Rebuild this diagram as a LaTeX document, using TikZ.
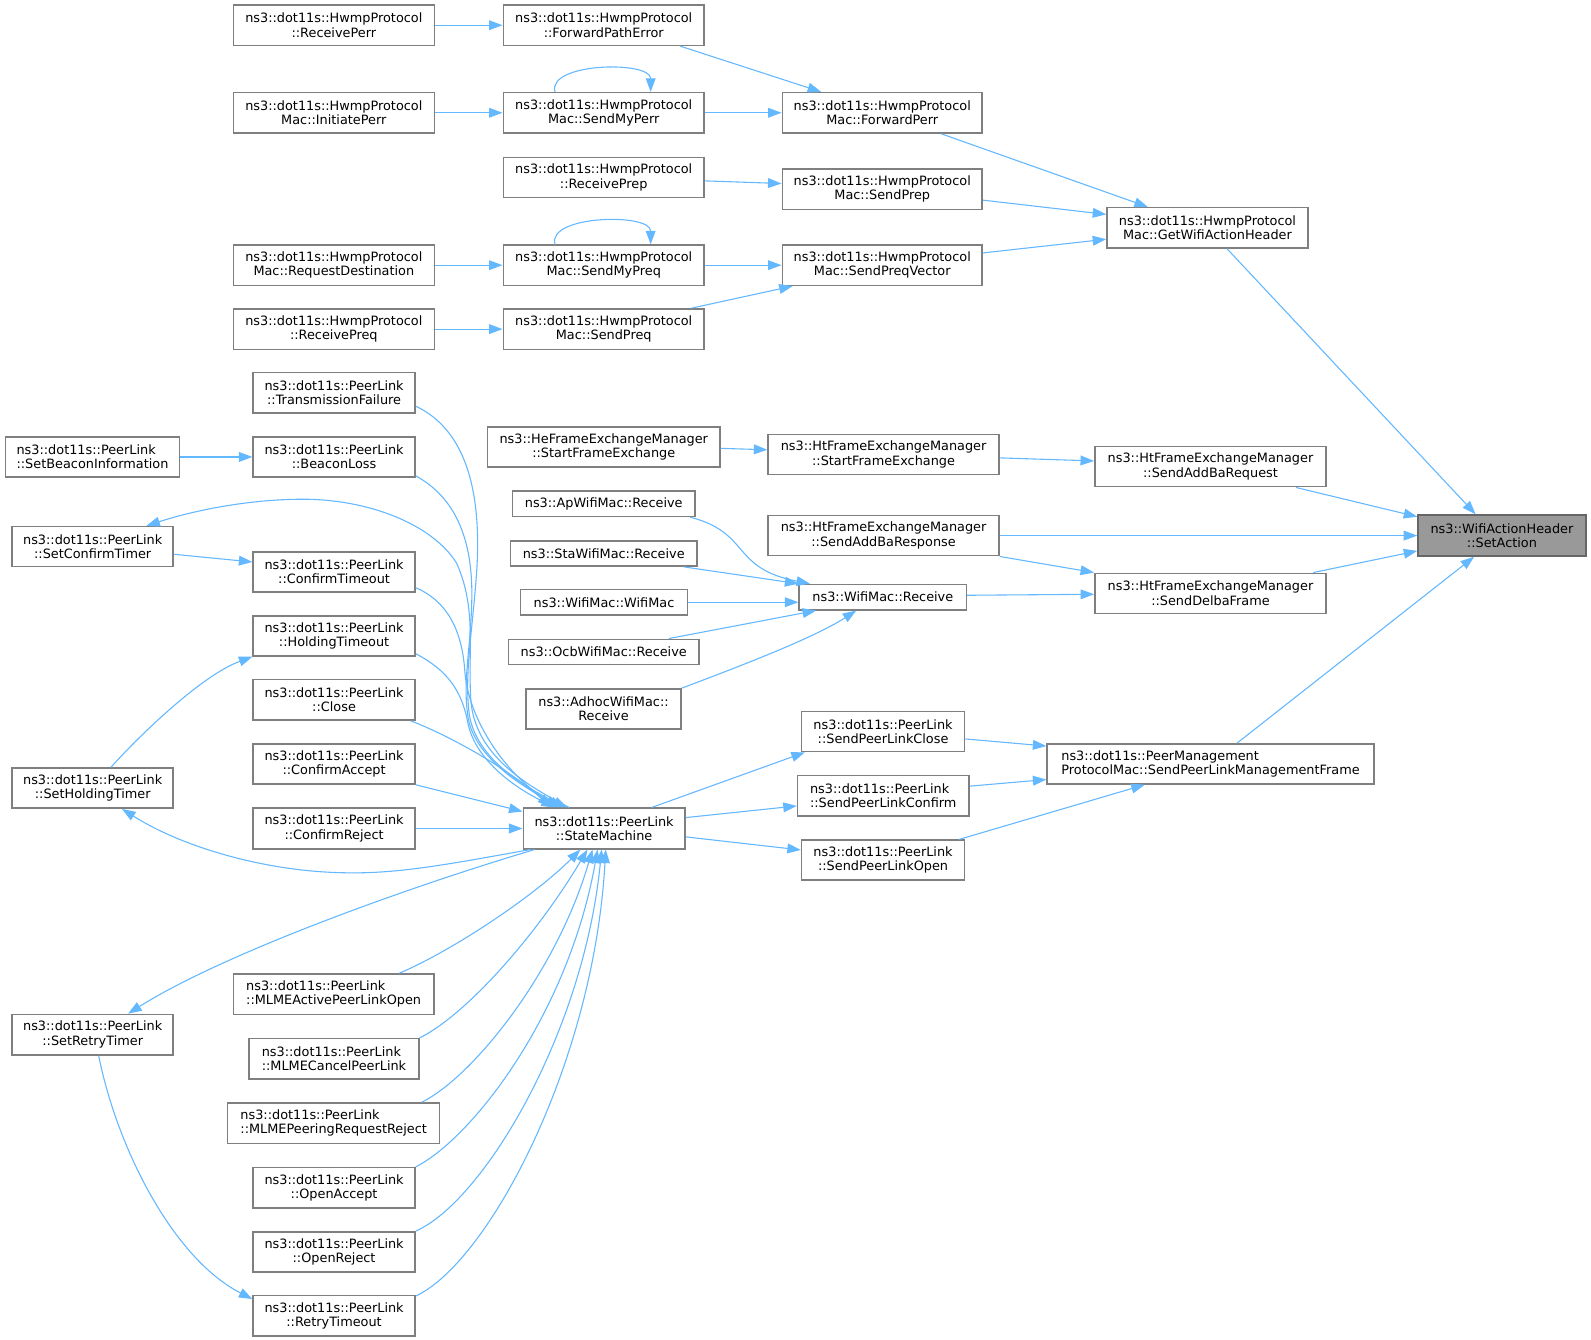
\documentclass[tikz,border=0pt]{standalone}
\usepackage{fontspec}
\setmainfont{DejaVu Sans}
\usetikzlibrary{arrows.meta,calc}
\definecolor{edgeblue}{HTML}{63B8FF}
\definecolor{boxgray}{HTML}{7F7F7F}
\definecolor{safill}{HTML}{999999}
\newcommand\nbox[7][box]{\node[#1, minimum width={(#5-#3)*0.75pt}, minimum height={(#6-#4)*0.75pt}] (#2) at ({(#3+#5)/2},{(#4+#6)/2}) {#7};}
\begin{document}
\begin{tikzpicture}[x=0.75pt,y=-0.75pt,
  box/.style={draw=boxgray, fill=white, line width=1.1pt, inner sep=0pt, align=center, font=\fontsize{9.5}{10.6}\selectfont},
  boxl/.style={box, align=left},
  boxsel/.style={box, fill=safill, draw=boxgray!80!black},
  edge/.style={draw=edgeblue, line width=0.8pt, -{Triangle[length=10pt,width=7.2pt]}}]
\fill[white] (0,0) rectangle (1568,1320);
\useasboundingbox (0,0) rectangle (1568,1320);
% Hwmp nodes
\nbox{rperr}{230}{5}{428}{44.7}{ns3::dot11s::HwmpProtocol\\::ReceivePerr}
\nbox{fpe}{496}{5}{694}{44.7}{ns3::dot11s::HwmpProtocol\\::ForwardPathError}
\nbox{iperr}{230}{91.3}{428}{131}{ns3::dot11s::HwmpProtocol\\Mac::InitiatePerr}
\nbox{smperr}{496}{91.3}{694}{131}{ns3::dot11s::HwmpProtocol\\Mac::SendMyPerr}
\nbox{fperr}{771}{91.3}{968}{131}{ns3::dot11s::HwmpProtocol\\Mac::ForwardPerr}
\nbox{rprep}{496}{155}{694}{194.7}{ns3::dot11s::HwmpProtocol\\::ReceivePrep}
\nbox{sprep}{771}{166.6}{968}{206.3}{ns3::dot11s::HwmpProtocol\\Mac::SendPrep}
\nbox{gwah}{1091}{204.7}{1289}{244.4}{ns3::dot11s::HwmpProtocol\\Mac::GetWifiActionHeader}
\nbox{rdest}{230}{241.5}{428}{281.2}{ns3::dot11s::HwmpProtocol\\Mac::RequestDestination}
\nbox{smpreq}{496}{241.5}{694}{281.2}{ns3::dot11s::HwmpProtocol\\Mac::SendMyPreq}
\nbox{spv}{771}{241.5}{968}{281.2}{ns3::dot11s::HwmpProtocol\\Mac::SendPreqVector}
\nbox{rpreq}{230}{304.5}{428}{344.2}{ns3::dot11s::HwmpProtocol\\::ReceivePreq}
\nbox{spreq}{496}{304.5}{694}{344.2}{ns3::dot11s::HwmpProtocol\\Mac::SendPreq}
% PeerLink left
\nbox{tfail}{249.5}{367}{409}{407}{ns3::dot11s::PeerLink\\::TransmissionFailure}
\nbox[boxl]{sbinfo}{5.3}{430.7}{177}{470}{ns3::dot11s::PeerLink\\::SetBeaconInformation}
\nbox{bloss}{249.5}{430.7}{409}{470}{ns3::dot11s::PeerLink\\::BeaconLoss}
\nbox{sctimer}{12}{519}{170.7}{558.5}{ns3::dot11s::PeerLink\\::SetConfirmTimer}
\nbox{ctimeout}{249.5}{544}{409}{583.4}{ns3::dot11s::PeerLink\\::ConfirmTimeout}
\nbox{htimeout}{249.5}{607}{409}{646.5}{ns3::dot11s::PeerLink\\::HoldingTimeout}
\nbox{close}{249.5}{669.5}{409}{709.6}{ns3::dot11s::PeerLink\\::Close}
\nbox{caccept}{249.5}{733}{409}{772.7}{ns3::dot11s::PeerLink\\::ConfirmAccept}
\nbox{sht}{12}{757}{170.7}{796.5}{ns3::dot11s::PeerLink\\::SetHoldingTimer}
\nbox{creject}{249.5}{796.5}{409}{836.5}{ns3::dot11s::PeerLink\\::ConfirmReject}
\nbox{sm}{515.7}{796.5}{675}{836.5}{ns3::dot11s::PeerLink\\::StateMachine}
\nbox[boxl]{mlmeopen}{230}{960}{427.7}{999.7}{ns3::dot11s::PeerLink\\::MLMEActivePeerLinkOpen}
\nbox{srt}{12}{999.7}{170.7}{1039.6}{ns3::dot11s::PeerLink\\::SetRetryTimer}
\nbox[boxl]{mlmecancel}{245.6}{1023.7}{412.7}{1063.5}{ns3::dot11s::PeerLink\\::MLMECancelPeerLink}
\nbox[boxl]{mlmepeer}{224.4}{1087}{433.3}{1126.8}{ns3::dot11s::PeerLink\\::MLMEPeeringRequestReject}
\nbox{oaccept}{249.5}{1150.7}{409}{1190.5}{ns3::dot11s::PeerLink\\::OpenAccept}
\nbox{oreject}{249.5}{1214}{409}{1253.6}{ns3::dot11s::PeerLink\\::OpenReject}
\nbox{rtimeout}{249.5}{1277}{409}{1316.6}{ns3::dot11s::PeerLink\\::RetryTimeout}
% Wifi middle
\nbox{hestart}{480.5}{420.6}{709.6}{460.3}{ns3::HeFrameExchangeManager\\::StartFrameExchange}
\nbox{apmac}{505}{484}{685}{509}{ns3::ApWifiMac::Receive}
\nbox{stamac}{503}{533}{687}{558}{ns3::StaWifiMac::Receive}
\nbox{wmwm}{513}{581}{677.5}{606}{ns3::WifiMac::WifiMac}
\nbox{ocbmac}{501}{630}{689}{655}{ns3::OcbWifiMac::Receive}
\nbox{adhoc}{518.6}{679}{671}{718.5}{ns3::AdhocWifiMac::\\Receive}
\nbox{htstart}{757}{428}{984.6}{467.7}{ns3::HtFrameExchangeManager\\::StartFrameExchange}
\nbox{addbaresp}{757}{508}{984.6}{547.7}{ns3::HtFrameExchangeManager\\::SendAddBaResponse}
\nbox{wmrecv}{787.6}{576}{952.5}{601}{ns3::WifiMac::Receive}
\nbox{splclose}{790}{701}{950.6}{740.7}{ns3::dot11s::PeerLink\\::SendPeerLinkClose}
\nbox[boxl]{splconfirm}{786}{764.5}{955}{804.2}{ns3::dot11s::PeerLink\\::SendPeerLinkConfirm}
\nbox{splopen}{790}{828}{950.6}{867.5}{ns3::dot11s::PeerLink\\::SendPeerLinkOpen}
\nbox{addbareq}{1079}{440}{1307}{479.7}{ns3::HtFrameExchangeManager\\::SendAddBaRequest}
\nbox{delba}{1079}{565}{1307}{604.5}{ns3::HtFrameExchangeManager\\::SendDelbaFrame}
\nbox[boxl]{splmf}{1032}{733}{1354}{772.6}{ns3::dot11s::PeerManagement\\ProtocolMac::SendPeerLinkManagementFrame}
\nbox[boxsel]{sa}{1397.5}{507.5}{1563}{548}{ns3::WifiActionHeader\\::SetAction}
% Hwmp edges
\draw[edge] (rperr.east) -- (fpe.west);
\draw[edge] ($(fpe.south west)+(175,0)$) -- ($(fperr.north west)+(39,0)$);
\draw[edge] (iperr.east) -- (smperr.west);
\draw[edge] ($(smperr.north west)+(51.7,0)$) .. controls +(-8,-29) and +(0,-31) .. ($(smperr.north west)+(146,0)$);
\draw[edge] (smperr.east) -- (fperr.west);
\draw[edge] ($(fperr.south west)+(157,0)$) -- ($(gwah.north west)+(41,0)$);
\draw[edge] ($(rprep.north east)+(0,24)$) -- ($(sprep.north west)+(0,15)$);
\draw[edge] ($(sprep.north east)+(0,31.4)$) -- ($(gwah.north west)+(0,7.3)$);
\draw[edge] (rdest.east) -- (smpreq.west);
\draw[edge] ($(smpreq.north west)+(51.7,0)$) .. controls +(-8,-29) and +(0,-31) .. ($(smpreq.north west)+(146,0)$);
\draw[edge] (smpreq.east) -- (spv.west);
\draw[edge] ($(spv.north east)+(0,8.5)$) -- ($(gwah.north west)+(0,31.8)$);
\draw[edge] (rpreq.east) -- (spreq.west);
\draw[edge] ($(spreq.north west)+(186,0)$) -- ($(spv.south west)+(11,0)$);
\draw[edge] ($(gwah.south west)+(119,0)$) -- ($(sa.north west)+(57.5,0)$);
% Frame exchange edges
\draw[edge] ($(hestart.north east)+(0,22)$) -- ($(htstart.north west)+(0,16)$);
\draw[edge] ($(htstart.north east)+(0,24)$) -- ($(addbareq.north west)+(0,15)$);
\draw[edge] ($(addbareq.south west)+(199,0)$) -- ($(sa.north west)+(0,2.5)$);
\draw[edge] (addbaresp.east) -- (addbaresp.east -| sa.west);
\draw[edge] (addbaresp.south east) -- (delba.north west);
\draw[edge] ($(delba.north west)+(216,0)$) -- ($(sa.north west)+(0,36.2)$);
\draw[edge] ($(wmrecv.north east)+(0,11.4)$) -- ($(delba.north west)+(0,21.4)$);
\draw[edge] ($(apmac.south west)+(176,0)$) .. controls (740,525) and (720,560) .. ($(wmrecv.north west)+(11.4,0)$);
\draw[edge] ($(stamac.south west)+(172,0)$) -- (wmrecv.north west);
\draw[edge] (wmwm.east) -- (wmwm.east -| wmrecv.west);
\draw[edge] ($(ocbmac.north west)+(159,0)$) -- ($(wmrecv.south west)+(17.4,0)$);
\draw[edge] (adhoc.north east) .. controls (720,660) and (800,630) .. ($(wmrecv.south west)+(57,0)$);
% Peer management edges
\draw[edge] ($(splmf.north west)+(188,0)$) -- ($(sa.south west)+(56,0)$);
\draw[edge] ($(splclose.north east)+(0,28)$) -- ($(splmf.north west)+(0,3)$);
\draw[edge] ($(splconfirm.north east)+(0,11)$) -- ($(splmf.north west)+(0,36)$);
\draw[edge] ($(splopen.north west)+(156,0)$) -- ($(splmf.south west)+(97,0)$);
\draw[edge] ($(sm.north west)+(127.3,0)$) -- ($(splclose.south west)+(4,0)$);
\draw[edge] ($(sm.north east)+(0,10)$) -- ($(splconfirm.north west)+(0,30.5)$);
\draw[edge] ($(sm.north east)+(0,29)$) -- ($(splopen.north west)+(0,10.4)$);
% PeerLink left edges
\draw[edge] (sbinfo.east) -- (bloss.west);
\draw[edge] ($(sctimer.north east)+(0,28)$) -- ($(ctimeout.north west)+(0,10.6)$);
\draw[edge] ($(sht.north west)+(98,0)$) .. controls (140,722) and (200,665) .. (htimeout.south west);
\draw[edge] ($(srt.south west)+(86,0)$) .. controls (115,1130) and (170,1240) .. ($(rtimeout.north west)+(0,4)$);
\draw[edge] ($(tfail.north east)+(0,34)$) .. controls (462,425) and (474,490) .. (470,560) .. controls (466,620) and (458,660) .. (462,700) .. controls (466,745) and (515,775) .. ($(sm.north west)+(44,0)$);
\draw[edge] ($(bloss.north east)+(0,39)$) .. controls (448,490) and (466,530) .. (465,590) .. controls (464,640) and (456,670) .. (461,705) .. controls (466,745) and (515,776) .. ($(sm.north west)+(40,0)$);
\draw[edge] ($(ctimeout.north east)+(0,36)$) .. controls (440,592) and (455,620) .. (458,660) .. controls (461,710) and (500,765) .. ($(sm.north west)+(36,0)$);
\draw[edge] ($(htimeout.north east)+(0,38)$) .. controls (440,660) and (455,680) .. (461,712) .. controls (468,748) and (505,775) .. ($(sm.north west)+(32,0)$);
\draw[edge] ($(close.south east)+(-5,0)$) .. controls (455,730) and (510,765) .. ($(sm.north west)+(28,0)$);
\draw[edge] (caccept.south east) -- ($(sm.north west)+(0,4)$);
\draw[edge] (creject.east) -- (sm.west);
\draw[edge] ($(sm.north west)+(46,0)$) .. controls (510,770) and (468,740) .. (464,690) .. controls (461,640) and (470,600) .. (450,555) .. controls (425,515) and (360,492) .. (299,492) .. controls (240,492) and (185,505) .. ($(sctimer.north west)+(133,0)$);
\draw[edge] ($(sm.south west)+(8,0)$) .. controls (440,852) and (390,862) .. (334,860) .. controls (260,858) and (180,835) .. ($(sht.south west)+(109,0)$);
\draw[edge] ($(sm.south west)+(12,0)$) .. controls (400,875) and (220,940) .. ($(srt.north west)+(115,0)$);
\draw[edge] ($(mlmeopen.north west)+(164,0)$) .. controls (450,935) and (530,880) .. ($(sm.south west)+(57,0)$);
\draw[edge] (mlmecancel.north east) .. controls (460,1000) and (530,920) .. ($(sm.south west)+(64,0)$);
\draw[edge] ($(mlmepeer.north west)+(192,0)$) .. controls (465,1062) and (548,960) .. ($(sm.south west)+(69,0)$);
\draw[edge] (oaccept.north east) .. controls (465,1122) and (560,1000) .. ($(sm.south west)+(74,0)$);
\draw[edge] (oreject.north east) .. controls (475,1185) and (575,1020) .. ($(sm.south west)+(78,0)$);
\draw[edge] ($(rtimeout.north east)+(0,1)$) .. controls (480,1245) and (585,1050) .. ($(sm.south west)+(82,0)$);
\end{tikzpicture}
\end{document}
